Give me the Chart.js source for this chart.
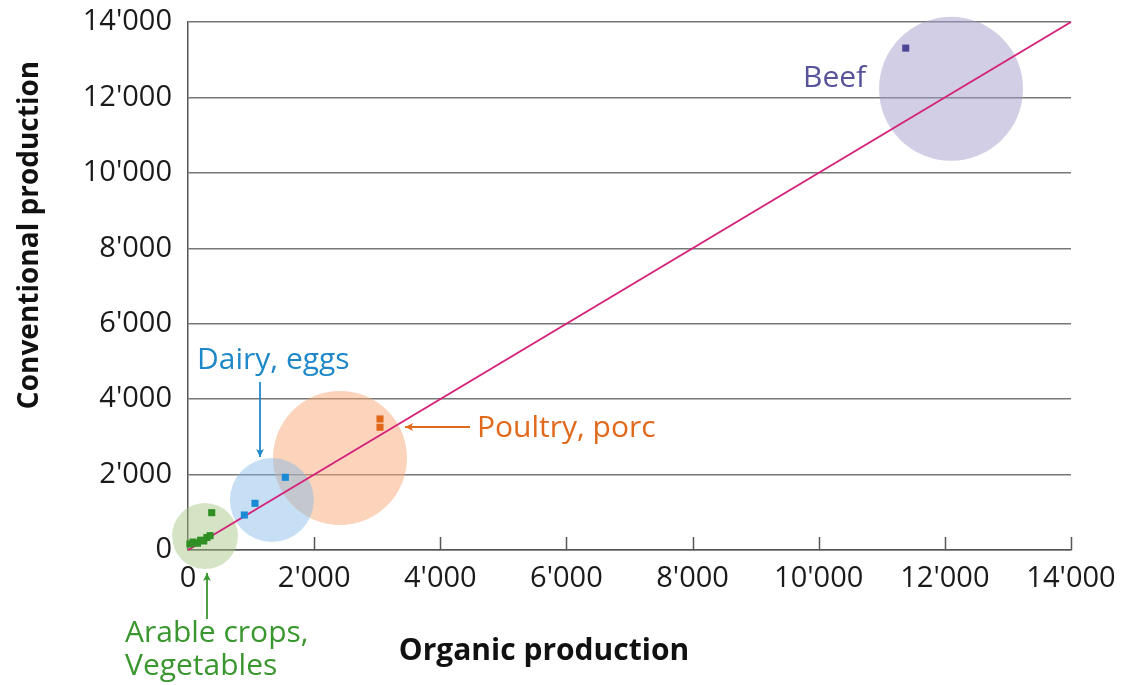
<!DOCTYPE html>
<html>
<head>
<meta charset="utf-8">
<script src="https://cdn.jsdelivr.net/npm/chart.js@4.4.1/dist/chart.umd.min.js"></script>
<style>
  html, body { margin: 0; padding: 0; background: #fff; }
  #wrap { width: 1126px; height: 685px; }
</style>
</head>
<body>
<div id="wrap"><canvas id="prodChart" width="1126" height="685"></canvas></div>
<script>
// ticks
const tickValues = [0, 2000, 4000, 6000, 8000, 10000, 12000, 14000];
const tickLabels = ['0', "2'000", "4'000", "6'000", "8'000", "10'000", "12'000", "14'000"];

// product groups (organic x, conventional y)
const arableX = [30, 80, 150, 200, 250, 300, 350, 376];
const arableY = [160, 210, 180, 260, 240, 330, 380, 990];
const dairyX = [893, 1062, 1543];
const dairyY = [928, 1238, 1928];
const poultryX = [3044, 3044];
const poultryY = [3475, 3255];
const beefX = [11380];
const beefY = [13308];

// group circles: centre and radius (px)
const groupNames = ['Arable crops', 'Dairy, eggs', 'Poultry, porc', 'Beef'];
const circleX = [270, 1330, 2410, 12098];
const circleY = [370, 1326, 2440, 12228];
const circleR = [33, 42, 67, 72];
const circleColors = ['rgba(160,195,125,0.45)', 'rgba(130,185,230,0.45)', 'rgba(248,170,120,0.5)', 'rgba(165,158,205,0.5)'];

// parity line
const parityX = [0, 14000];
const parityY = [0, 14000];

function pts(xs, ys) { return xs.map((x, i) => ({ x: x, y: ys[i] })); }

const circleSets = groupNames.map((name, i) => ({
    type: 'bubble',
    label: name + ' area',
    data: [{ x: circleX[i], y: circleY[i], r: circleR[i] }],
    backgroundColor: circleColors[i],
    borderWidth: 0,
    hoverRadius: 0,
    order: 3
}));

function pointSet(label, xs, ys, color) {
    return {
        type: 'scatter',
        label: label,
        data: pts(xs, ys),
        pointStyle: 'rect',
        pointRadius: 5,
        pointHoverRadius: 5,
        backgroundColor: color,
        borderWidth: 0,
        order: 1
    };
}

// annotations (data units)
const notes = [
    { text: 'Beef', x: 9751, y: 12277, color: '#57529a' },
    { text: 'Dairy, eggs', x: 143, y: 4800, color: '#1e88c8' },
    { text: 'Poultry, porc', x: 4582, y: 2997, color: '#e0691c' },
    { text: 'Arable crops,', x: -999, y: -2440, color: '#3a962e' },
    { text: 'Vegetables', x: -999, y: -3315, color: '#3a962e' }
];
const arrows = [
    { x1: 1142, y1: 4455, x2: 1142, y2: 2466, color: '#1e88c8' },
    { x1: 4471, y1: 3262, x2: 3441, y2: 3262, color: '#e0691c' },
    { x1: 301, y1: -1830, x2: 301, y2: -610, color: '#3a962e' }
];

const overlay = {
    id: 'overlay',
    afterDraw(chart) {
        const ctx = chart.ctx, xs = chart.scales.x, ys = chart.scales.y;
        ctx.save();
        // inward ticks on x axis
        ctx.strokeStyle = '#555';
        ctx.lineWidth = 1.5;
        tickValues.slice(1).forEach(v => {
            const px = Math.round(xs.getPixelForValue(v)) + 0.5;
            ctx.beginPath();
            ctx.moveTo(px, ys.bottom);
            ctx.lineTo(px, ys.bottom - 13);
            ctx.stroke();
        });
        // notes
        ctx.font = '30px "Open Sans"';
        ctx.textBaseline = 'alphabetic';
        ctx.textAlign = 'left';
        notes.forEach(n => {
            ctx.fillStyle = n.color;
            ctx.fillText(n.text, xs.getPixelForValue(n.x), ys.getPixelForValue(n.y));
        });
        // arrows
        arrows.forEach(a => {
            const x1 = xs.getPixelForValue(a.x1), y1 = ys.getPixelForValue(a.y1);
            const x2 = xs.getPixelForValue(a.x2), y2 = ys.getPixelForValue(a.y2);
            const ang = Math.atan2(y2 - y1, x2 - x1);
            ctx.strokeStyle = a.color;
            ctx.fillStyle = a.color;
            ctx.lineWidth = 1.8;
            ctx.beginPath();
            ctx.moveTo(x1, y1);
            ctx.lineTo(x2, y2);
            ctx.stroke();
            ctx.beginPath();
            ctx.moveTo(x2, y2);
            ctx.lineTo(x2 - 9 * Math.cos(ang - 0.45), y2 - 9 * Math.sin(ang - 0.45));
            ctx.lineTo(x2 - 6 * Math.cos(ang), y2 - 6 * Math.sin(ang));
            ctx.lineTo(x2 - 9 * Math.cos(ang + 0.45), y2 - 9 * Math.sin(ang + 0.45));
            ctx.closePath();
            ctx.fill();
        });
        // axis titles
        ctx.fillStyle = '#111';
        ctx.textAlign = 'center';
        ctx.textBaseline = 'middle';
        ctx.font = 'bold 30px "Open Sans"';
        ctx.fillText('Organic production', 544, 651);
        ctx.font = 'bold 28px "Open Sans"';
        ctx.translate(30, 235);
        ctx.rotate(-Math.PI / 2);
        ctx.fillText('Conventional production', 0, 0);
        ctx.restore();
    }
};

const fmt = v => {
    const i = tickValues.indexOf(v);
    return i >= 0 ? tickLabels[i] : '';
};

const noPad = s => { s.paddingTop = 0; s.paddingBottom = 0; s.paddingLeft = 0; s.paddingRight = 0; };

new Chart(document.getElementById('prodChart'), {
    type: 'scatter',
    data: {
        datasets: [
            ...circleSets,
            {
                type: 'line',
                label: 'Parity',
                data: pts(parityX, parityY),
                borderColor: '#d4237a',
                borderWidth: 2,
                pointRadius: 0,
                order: 2
            },
            pointSet('Arable crops, Vegetables', arableX, arableY, '#2f8f23'),
            pointSet('Dairy, eggs', dairyX, dairyY, '#1a8ad4'),
            pointSet('Poultry, porc', poultryX, poultryY, '#e2661a'),
            pointSet('Beef', beefX, beefY, '#4a4796')
        ]
    },
    options: {
        responsive: false,
        animation: false,
        clip: false,
        layout: { autoPadding: false, padding: { left: 0, right: 55, top: 22, bottom: 0 } },
        plugins: { legend: { display: false }, tooltip: { enabled: false } },
        scales: {
            x: {
                type: 'linear',
                min: 0, max: 14000,
                afterFit: s => { s.height = 135; noPad(s); },
                afterBuildTicks: s => { s.ticks = tickValues.map(v => ({ value: v })); },
                grid: { drawOnChartArea: false, drawTicks: false },
                border: { color: '#555', width: 1.5 },
                ticks: { callback: fmt, padding: 11, color: '#1a1a1a', font: { family: 'Open Sans', size: 29 }, maxRotation: 0, autoSkip: false }
            },
            y: {
                type: 'linear',
                min: 0, max: 14000,
                afterFit: s => { s.width = 188; noPad(s); },
                afterBuildTicks: s => { s.ticks = tickValues.map(v => ({ value: v })); },
                grid: { color: '#777', lineWidth: 1.5, drawTicks: false },
                border: { color: '#555', width: 1.5 },
                ticks: { callback: fmt, padding: 16, color: '#1a1a1a', font: { family: 'Open Sans', size: 29 }, autoSkip: false }
            }
        }
    },
    plugins: [overlay]
});
</script>
</body>
</html>
